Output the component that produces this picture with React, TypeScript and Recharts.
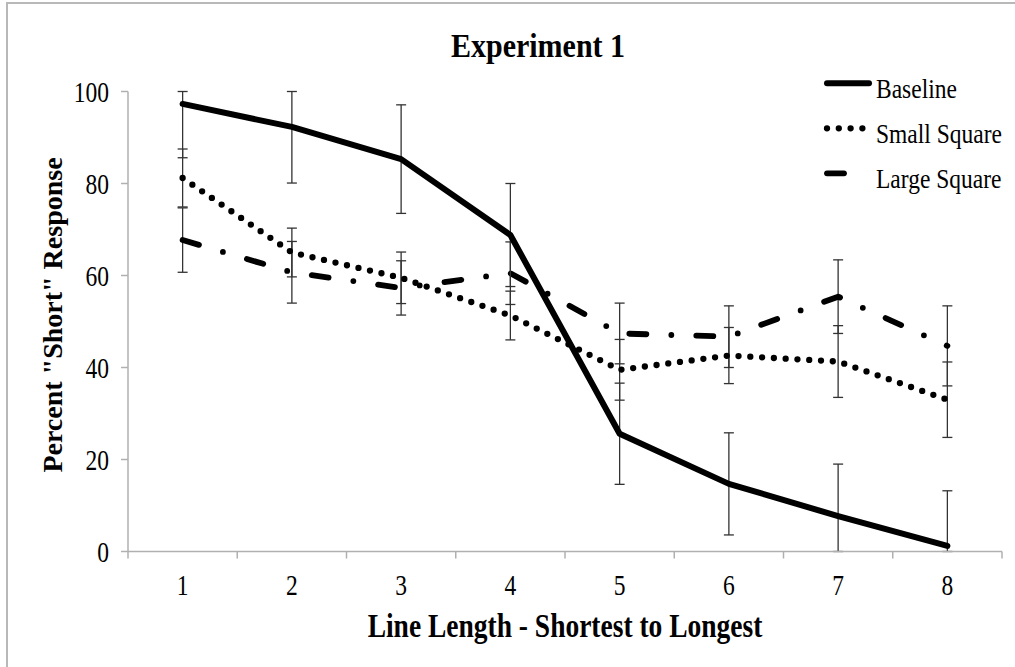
import React from 'react';
import { LineChart, Line, XAxis, YAxis, ErrorBar, Legend } from 'recharts';

const trials = [1, 2, 3, 4, 5, 6, 7, 8];
const baseline = [97.3, 92.3, 85.3, 68.8, 25.6, 14.7, 7.7, 1.2];
const baselineErr = [11.7, 12.2, 11.8, 11.2, 11.0, 11.1, 11.3, 12.0];
const smallSquare = [81.2, 65.0, 59.5, 51.3, 39.5, 42.6, 41.3, 33.0];
const smallSquareErr = [6.3, 5.3, 5.6, 5.3, 6.6, 6.1, 7.8, 8.2];
const largeSquare = [67.7, 60.7, 57.3, 60.5, 47.4, 46.7, 55.4, 44.7];
const largeSquareErr = [7.0, 6.7, 5.9, 6.8, 6.6, 6.7, 8.0, 8.7];
const yTicks = [0, 20, 40, 60, 80, 100];

const FONT = '"Liberation Serif", "Times New Roman", serif';
const AXIS_GRAY = '#b0b0b0';

// whiskers stop at the 0..100 range of the axis
const clipErr = (v: number, e: number): [number, number] => [Math.min(e, v), Math.min(e, 100 - v)];

const data = trials.map((t, i) => ({
  trial: t,
  baseline: baseline[i],
  baselineErr: clipErr(baseline[i], baselineErr[i]),
  smallSquare: smallSquare[i],
  smallSquareErr: clipErr(smallSquare[i], smallSquareErr[i]),
  largeSquare: largeSquare[i],
  largeSquareErr: clipErr(largeSquare[i], largeSquareErr[i]),
}));

// tick at every category boundary, label at every category centre
const xTicks = trials.flatMap((t) => [t - 0.5, t]).concat(trials[trials.length - 1] + 0.5);

type Series = { key: string; name: string; width: number; dash?: string; legendLen: number };

// drawn in this order, so the solid baseline ends up on top
const series: Series[] = [
  { key: 'largeSquare', name: 'Large Square', width: 5.8, dash: '17 25 0 25', legendLen: 19 },
  { key: 'smallSquare', name: 'Small Square', width: 6.3, dash: '0 11.8', legendLen: 46 },
  { key: 'baseline', name: 'Baseline', width: 6, legendLen: 42 },
];
const legendOrder = ['baseline', 'smallSquare', 'largeSquare'];

type TextProps = {
  x: number;
  y: number;
  size: number;
  sy?: number;
  anchor?: 'start' | 'middle' | 'end';
  bold?: boolean;
  rotate?: number;
  children: React.ReactNode;
};

// the type in this chart is drawn tall and narrow, so stretch it vertically
function TallText({ x, y, size, sy = 1, anchor = 'middle', bold, rotate, children }: TextProps) {
  const t = `translate(${x},${y})${rotate ? ` rotate(${rotate})` : ''} scale(1,${sy})`;
  return (
    <text
      transform={t}
      textAnchor={anchor}
      dominantBaseline="central"
      fontFamily={FONT}
      fontSize={size}
      fontWeight={bold ? 'bold' : 'normal'}
      fill="#000"
    >
      {children}
    </text>
  );
}

function XTick(props: any) {
  const { x, y, payload } = props;
  if (payload.value % 1 !== 0) {
    return <line x1={x} y1={y} x2={x} y2={y + 7} stroke={AXIS_GRAY} strokeWidth={1.5} />;
  }
  return (
    <TallText x={x} y={y + 33} size={23.5} sy={1.28}>
      {payload.value}
    </TallText>
  );
}

function YTick(props: any) {
  const { x, y, payload } = props;
  return (
    <TallText x={x} y={y} size={23.5} sy={1.28} anchor="end">
      {payload.value}
    </TallText>
  );
}

function LegendBox() {
  return (
    <svg width={200} height={130} style={{ display: 'block' }}>
      {legendOrder.map((key, i) => {
        const s = series.find((d) => d.key === key)!;
        const y = 17.3 + i * 45;
        return (
          <g key={key}>
            <line
              x1={12}
              y1={y}
              x2={12 + s.legendLen}
              y2={y}
              stroke="#000"
              strokeWidth={s.width}
              strokeDasharray={s.dash}
              strokeLinecap="round"
            />
            <TallText x={61} y={y + 5.5} size={23.5} sy={1.18} anchor="start">
              {s.name}
            </TallText>
          </g>
        );
      })}
    </svg>
  );
}

export default function App() {
  return (
    <div
      style={{
        position: 'fixed',
        left: 0,
        top: 0,
        width: 1015,
        height: 667,
        overflow: 'hidden',
        background: '#fff',
      }}
    >
      <div
        style={{
          position: 'absolute',
          left: 6,
          top: 2,
          width: 1040,
          height: 700,
          border: '2px solid #b8b8b8',
        }}
      />
      <div style={{ position: 'absolute', left: 0, top: 0 }}>
        <LineChart
          width={1015}
          height={667}
          data={data}
          margin={{ top: 91.5, right: 13, bottom: 55.5, left: 68 }}
        >
          <XAxis
            dataKey="trial"
            type="number"
            domain={[0.5, 8.5]}
            ticks={xTicks}
            interval={0}
            height={60}
            tickLine={false}
            tickSize={0}
            tickMargin={0}
            tick={<XTick />}
            axisLine={{ stroke: AXIS_GRAY, strokeWidth: 1.5 }}
          />
          <YAxis
            type="number"
            domain={[0, 100]}
            ticks={yTicks}
            interval={0}
            width={60}
            tickSize={7}
            tickMargin={12}
            tick={<YTick />}
            tickLine={{ stroke: AXIS_GRAY, strokeWidth: 1.5 }}
            axisLine={{ stroke: AXIS_GRAY, strokeWidth: 1.5 }}
          />
          <Legend
            layout="vertical"
            align="center"
            verticalAlign="middle"
            wrapperStyle={{ left: 815, top: 66, width: 200, height: 130 }}
            content={() => <LegendBox />}
          />
          {series.map((s) => (
            <Line
              key={s.key}
              dataKey={s.key}
              name={s.name}
              type="linear"
              stroke="#000"
              strokeWidth={s.width}
              strokeDasharray={s.dash}
              strokeLinecap="round"
              strokeLinejoin="round"
              dot={false}
              activeDot={false}
              isAnimationActive={false}
            >
              <ErrorBar
                dataKey={`${s.key}Err`}
                direction="y"
                width={5}
                stroke="#333"
                strokeWidth={1.3}
                isAnimationActive={false}
              />
            </Line>
          ))}
        </LineChart>
      </div>
      <svg
        width={1015}
        height={667}
        style={{ position: 'absolute', left: 0, top: 0, pointerEvents: 'none' }}
      >
        <TallText x={538} y={45.3} size={30} sy={1.13} bold>
          Experiment 1
        </TallText>
        <TallText x={565} y={625.8} size={27.5} sy={1.2} bold>
          Line Length - Shortest to Longest
        </TallText>
        <TallText x={52.5} y={315} size={28} bold rotate={-90}>
          Percent "Short" Response
        </TallText>
      </svg>
    </div>
  );
}
